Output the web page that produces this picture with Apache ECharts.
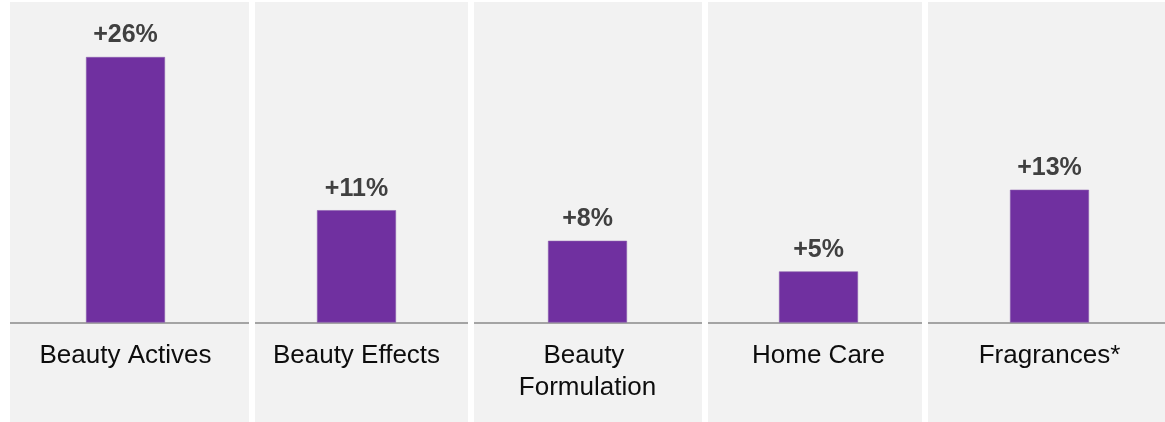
<!DOCTYPE html>
<html>
<head>
<meta charset="utf-8">
<script src="https://cdn.jsdelivr.net/npm/echarts@6/dist/echarts.min.js"></script>
<style>
  html, body { margin: 0; padding: 0; background: #ffffff; }
  #chart { width: 1165px; height: 422px; }
</style>
</head>
<body>
<div id="chart"></div>
<script>
// Growth by business line
const categories = ['Beauty Actives', 'Beauty Effects', 'Beauty Formulation', 'Home Care', 'Fragrances*'];
const growth = [26, 11, 8, 5, 13];

// Grey panel behind each category: [left, right] in px
const panelEdges = [[10, 249], [255, 468], [474, 702], [708, 922], [928, 1165]];
const panelTop = 2;

const chart = echarts.init(document.getElementById('chart'), null, { renderer: 'canvas' });

const graphics = [];
panelEdges.forEach(function (p) {
  graphics.push({
    type: 'rect', z: -10, silent: true,
    shape: { x: p[0], y: panelTop, width: p[1] - p[0], height: 422 - panelTop },
    style: { fill: '#f2f2f2' }
  });
});
// white gutters between panels, painted over the baseline
for (let i = 0; i < panelEdges.length - 1; i++) {
  graphics.push({
    type: 'rect', z: 1, silent: true,
    shape: { x: panelEdges[i][1], y: 0, width: panelEdges[i + 1][0] - panelEdges[i][1], height: 422 },
    style: { fill: '#ffffff' }
  });
}
graphics.push({
  type: 'rect', z: 1, silent: true,
  shape: { x: 0, y: 0, width: panelEdges[0][0], height: 422 },
  style: { fill: '#ffffff' }
});

chart.setOption({
  backgroundColor: '#ffffff',
  animation: false,
  graphic: graphics,
  grid: { left: 10, right: 0, top: 57, bottom: 99.5, containLabel: false },
  xAxis: {
    type: 'category',
    data: categories,
    axisTick: { show: false },
    axisLine: { show: true, lineStyle: { color: '#8a8a8a', width: 1.5 } },
    axisLabel: {
      interval: 0,
      margin: 17,
      color: '#0d0d0d',
      fontFamily: 'Liberation Sans, Arial, sans-serif',
      fontSize: 26,
      lineHeight: 32,
      width: 205,
      overflow: 'break'
    }
  },
  yAxis: {
    type: 'value',
    min: 0,
    max: 26,
    show: false,
    splitLine: { show: false }
  },
  series: [{
    type: 'bar',
    data: growth,
    barWidth: 79,
    itemStyle: { color: '#7030a0', borderColor: '#8a5cac', borderWidth: 0.6 },
    label: {
      show: true,
      position: 'top',
      distance: 9,
      formatter: function (p) { return '+' + p.value + '%'; },
      color: '#404040',
      fontFamily: 'Liberation Sans, Arial, sans-serif',
      fontWeight: 'bold',
      fontSize: 25
    }
  }]
});
</script>
</body>
</html>
